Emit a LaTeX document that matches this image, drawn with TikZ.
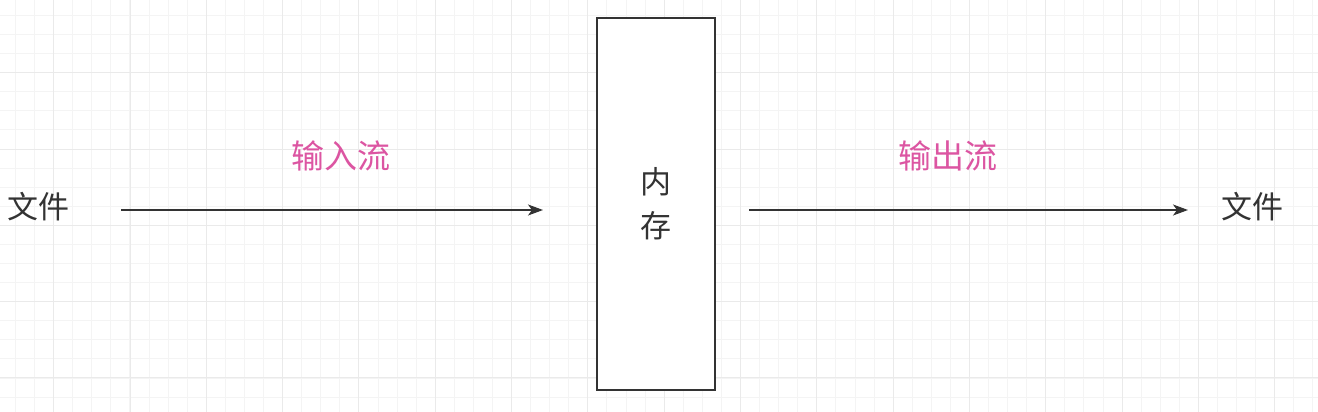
\documentclass[tikz,border=0pt]{standalone}
\usepackage{fontspec}
\setmainfont{Noto Sans CJK SC}
\usetikzlibrary{arrows.meta}
\definecolor{ink}{HTML}{333333}
\definecolor{flowpink}{HTML}{DC55A2}
\definecolor{gridminor}{HTML}{F4F4F4}
\definecolor{gridmajor}{HTML}{EAEAEA}

\begin{document}
\begin{tikzpicture}[x=1pt, y=-1pt,
    word/.style={text=ink, inner sep=0pt, font=\fontsize{31}{44}\selectfont},
    flowlabel/.style={word, text=flowpink, font=\fontsize{33}{44}\selectfont},
    membox/.style={word, draw=ink, line width=2pt, fill=white, minimum width=118pt,
        minimum height=372pt, align=center},
    flow/.style={draw=ink, line width=1.3pt, -{Stealth[length=15pt, width=11pt, inset=4pt]}}]
            \useasboundingbox[fill=white] (0, 0) rectangle (1318, 412);
            % background grid
            \foreach \k in {0, ..., 68}
                \draw[gridminor, line width=1pt] (15.5 + 19.08*\k, 0) -- (15.5 + 19.08*\k, 412);
            \foreach \k in {0, ..., 20}
                \draw[gridminor, line width=1pt] (0, 15.5 + 19.08*\k) -- (1318, 15.5 + 19.08*\k);
            \foreach \k in {0, ..., 16}
                \draw[gridmajor, line width=1pt] (53.7 + 76.32*\k, 0) -- (53.7 + 76.32*\k, 412);
            \foreach \k in {0, ..., 4}
                \draw[gridmajor, line width=1pt] (0, 72.7 + 76.32*\k) -- (1318, 72.7 + 76.32*\k);
            \node[word] (srcfile) at (38, 207) {文件};
            \node[word] (dstfile) at (1252, 207) {文件};
            \node[membox] (memory) at (656, 204) {内\\存};
            \node[flowlabel] (inlabel) at (341, 156) {输入流};
            \node[flowlabel] (outlabel) at (948, 156) {输出流};
            \coordinate (inbegin) at (121, 210);
            \coordinate (inend) at (543, 210);
            \coordinate (outbegin) at (749, 210);
            \coordinate (outend) at (1188, 210);
            \draw[flow] (inbegin) -- (inend);
            \draw[flow] (outbegin) -- (outend);
        \end{tikzpicture}
\end{document}
